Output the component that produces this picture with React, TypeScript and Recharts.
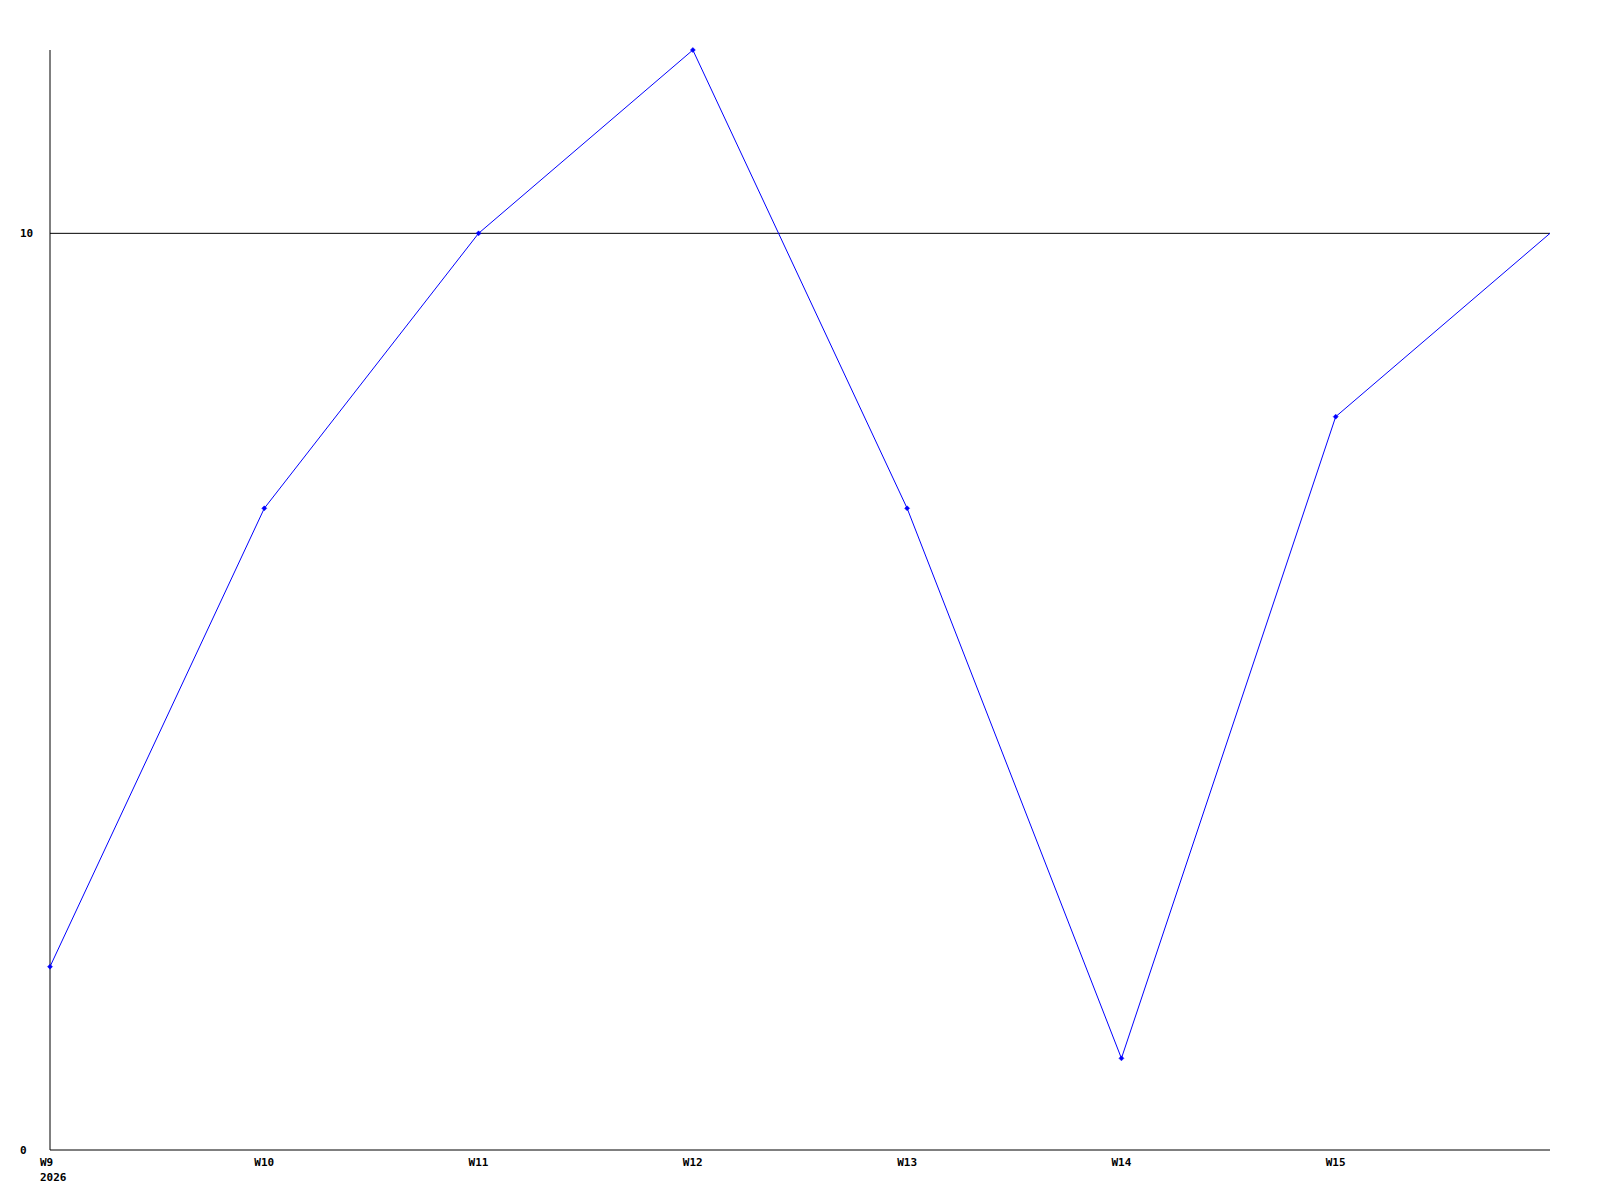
import React from "react";
import { LineChart, Line, XAxis, YAxis, ReferenceLine } from "recharts";

const weeks = ["W9", "W10", "W11", "W12", "W13", "W14", "W15", "W16"];
const counts = [2, 7, 10, 12, 7, 1, 8, 10];
const yTicks = [0, 10];
const yearLabel = "2026";

const data = weeks.map((week, i) => ({ week, count: counts[i] }));

const font = "'DejaVu Sans Mono', monospace";

function XTick(props: any) {
  const { x, y, payload, index } = props;
  // last point sits on the right edge and carries no label
  if (index === weeks.length - 1) return null;
  return (
    <g>
      <text x={x - 10} y={y + 8} fontFamily={font} fontWeight="bold" fontSize={11} fill="#000" textAnchor="start">
        {payload.value}
      </text>
      {index === 0 && (
        <text x={x - 10} y={y + 23} fontFamily={font} fontWeight="bold" fontSize={11} fill="#000" textAnchor="start">
          {yearLabel}
        </text>
      )}
    </g>
  );
}

function YTick(props: any) {
  const { y, payload } = props;
  return (
    <text x={20} y={y + 4} fontFamily={font} fontWeight="bold" fontSize={11} fill="#000" textAnchor="start">
      {payload.value}
    </text>
  );
}

function Marker(props: any) {
  const { cx, cy, index } = props;
  if (cx == null || cy == null || index === weeks.length - 1) return null;
  const s = 2.5;
  return (
    <path
      d={`M${cx},${cy - s}L${cx + s},${cy}L${cx},${cy + s}L${cx - s},${cy}Z`}
      fill="#0000ff"
      stroke="#0000ff"
      strokeWidth={0.5}
    />
  );
}

export default function App() {
  return (
    <div style={{ width: 1600, height: 1200, background: "#fff" }}>
      <style>{"body{margin:0}"}</style>
      <LineChart width={1600} height={1200} data={data} margin={{ top: 50, right: 50, bottom: 0, left: 0 }}>
        <XAxis
          dataKey="week"
          height={50}
          padding={{ left: 0, right: 0 }}
          axisLine={{ stroke: "#000", strokeWidth: 1 }}
          tickLine={false}
          interval={0}
          tick={<XTick />}
        />
        <YAxis
          width={50}
          domain={[0, 12]}
          ticks={yTicks}
          axisLine={{ stroke: "#000", strokeWidth: 1 }}
          tickLine={false}
          tick={<YTick />}
        />
        <ReferenceLine y={10} stroke="#000" strokeWidth={1} />
        <Line
          type="linear"
          dataKey="count"
          stroke="#0000ff"
          strokeWidth={1}
          dot={<Marker />}
          activeDot={false}
          isAnimationActive={false}
        />
      </LineChart>
    </div>
  );
}
